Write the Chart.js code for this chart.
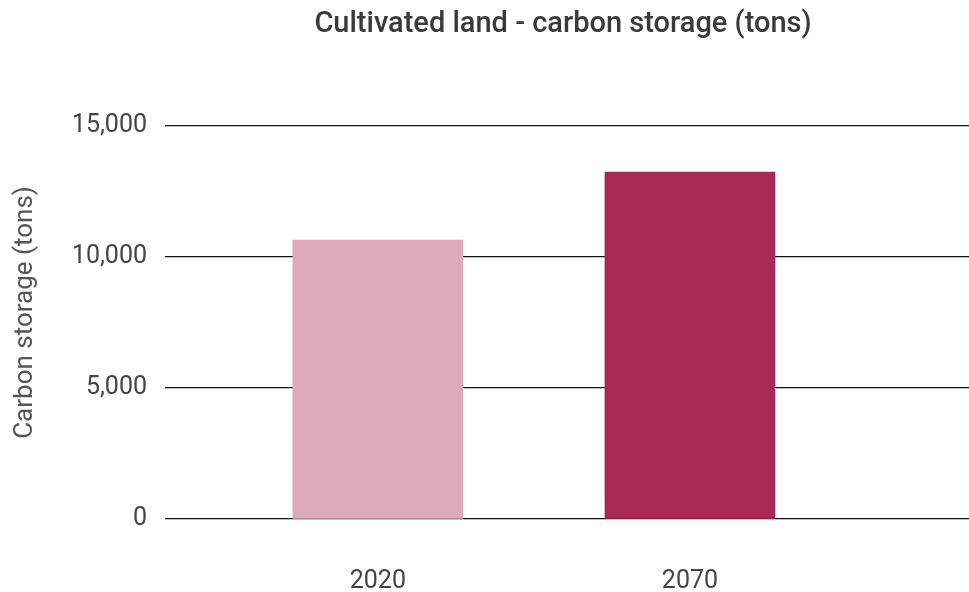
<!DOCTYPE html>
<html>
<head>
<meta charset="utf-8">
<script src="https://cdn.jsdelivr.net/npm/chart.js@4/dist/chart.umd.min.js"></script>
<style>
html,body{margin:0;padding:0;background:#fff;}
#wrap{width:969px;height:592px;position:relative;}
</style>
</head>
<body>
<div id="wrap"><canvas id="c" width="969" height="592"></canvas></div>
<script>
const titleText = 'Cultivated land - carbon storage (tons)';
const yAxisTitle = 'Carbon storage (tons)';
const years = [2020, 2070];
const carbonValues = [10650, 13240];
const barColors = ['#dda9ba', '#a82a54'];
const yTicks = [0, 5000, 10000, 15000];

const titlePlugin = {
  id: 'centeredTitle',
  afterDraw(chart) {
    const {ctx, chartArea} = chart;
    ctx.save();
    ctx.font = '500 29px Roboto';
    ctx.fillStyle = '#3a3a3a';
    ctx.textAlign = 'center';
    ctx.textBaseline = 'middle';
    ctx.fillText(titleText, (chartArea.left + chartArea.right) / 2 - 4, 25);
    ctx.restore();
    // y-axis title
    ctx.save();
    ctx.font = '26px Roboto';
    ctx.fillStyle = '#555';
    ctx.textAlign = 'center';
    ctx.textBaseline = 'middle';
    ctx.translate(25, (chartArea.top + chartArea.bottom) / 2 - 10);
    ctx.rotate(-Math.PI / 2);
    ctx.fillText(yAxisTitle, 0, 0);
    ctx.restore();
  }
};

new Chart(document.getElementById('c'), {
  type: 'bar',
  data: {
    datasets: [{
      data: years.map((y, i) => ({x: y, y: carbonValues[i]})),
      backgroundColor: barColors,
      barThickness: 170,
      borderWidth: 0
    }]
  },
  options: {
    responsive: false,
    animation: false,
    layout: {padding: {top: 126, right: 0, bottom: 0, left: 0}},
    plugins: {legend: {display: false}, tooltip: {enabled: false}, title: {display: false}},
    scales: {
      x: {
        type: 'linear',
        offset: false,
        min: 1985.9,
        max: 2114.7,
        grid: {display: false},
        border: {display: false},
        afterBuildTicks: (s) => { s.ticks = years.map(v => ({value: v})); },
        afterFit: (s) => { s.height = 73; },
        ticks: {
          padding: 40,
          color: '#444',
          font: {family: 'Roboto', size: 25},
          callback: (v) => String(v),
          autoSkip: false,
          maxRotation: 0
        }
      },
      y: {
        min: 0,
        max: 15000,
        z: 1,
        afterBuildTicks: (s) => { s.ticks = yTicks.map(v => ({value: v})); },
        afterFit: (s) => { s.width = 165; },
        grid: {color: '#111', lineWidth: 1.3, drawTicks: false},
        border: {display: false},
        ticks: {
          padding: 18,
          color: '#444',
          font: {family: 'Roboto', size: 25}
        }
      }
    }
  },
  plugins: [titlePlugin]
});
</script>
</body>
</html>
